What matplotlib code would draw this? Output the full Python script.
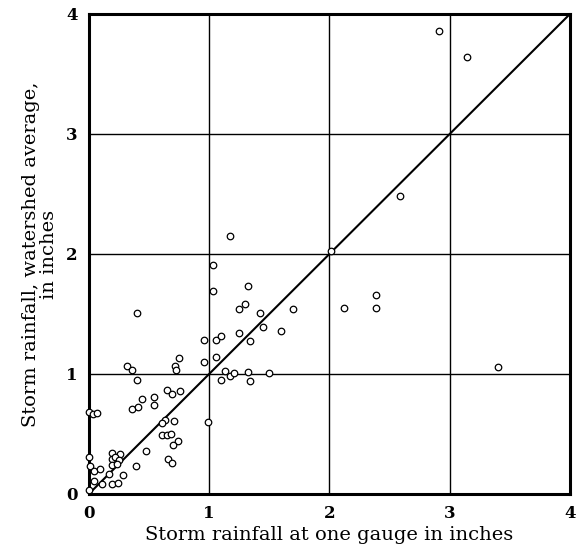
import numpy as np
import matplotlib
matplotlib.use("Agg")
import matplotlib.pyplot as plt

# gauge rainfall (x) vs watershed average (y), inches
gauge = [0.32, 0.36, 0.40, 0.72, 0.725, 0.75, 0.96, 1.06, 1.13, 1.10, 1.17, 1.21, 1.32, 1.34, 1.50,
         0.65, 0.69, 0.76, 0.44, 0.54, 0.54,
         0.00, 0.03, 0.07, 0.36, 0.41,
         0.63, 0.61, 0.705, 0.61, 0.65, 0.68, 0.74, 0.70, 0.66, 0.69, 0.475, 0.99,
         0.00, 0.01, 0.04, 0.095, 0.04, 0.00, 0.11, 0.19, 0.24, 0.28, 0.17, 0.19, 0.26, 0.19,
         0.22, 0.25, 0.19, 0.23, 0.39,
         0.40, 1.03, 1.32, 1.25, 1.30, 1.42, 0.96, 1.06, 1.10, 1.25, 1.34,
         1.03, 1.17,
         2.01, 2.39, 2.39, 2.12, 1.70, 1.45, 1.60,
         2.91, 3.14, 2.59, 3.40]
watershed = [1.07, 1.03, 0.95, 1.07, 1.03, 1.13, 1.10, 1.14, 1.025, 0.95, 0.98, 1.01, 1.02, 0.94, 1.01,
             0.87, 0.83, 0.86, 0.79, 0.81, 0.74,
             0.68, 0.67, 0.675, 0.71, 0.725,
             0.62, 0.59, 0.61, 0.49, 0.49, 0.50, 0.44, 0.41, 0.29, 0.26, 0.36, 0.60,
             0.31, 0.23, 0.19, 0.21, 0.11, 0.03, 0.08, 0.08, 0.095, 0.16, 0.17, 0.34, 0.33, 0.29,
             0.31, 0.28, 0.24, 0.25, 0.23,
             1.51, 1.69, 1.73, 1.54, 1.58, 1.51, 1.28, 1.28, 1.32, 1.34, 1.275,
             1.91, 2.15,
             2.025, 1.66, 1.55, 1.55, 1.54, 1.39, 1.36,
             3.855, 3.64, 2.48, 1.06]

ticks = [0, 1, 2, 3, 4]

plt.rcParams['font.family'] = ['DejaVu Serif']

fig = plt.figure(figsize=(5.81, 5.60), dpi=100)
ax = fig.add_axes((0.153, 0.118, 0.828, 0.857))

# 1:1 line
ax.plot([0, 4], [0, 4], color='k', linewidth=1.5, zorder=2)

ax.scatter(gauge, watershed, s=22, facecolors='white', edgecolors='k',
           linewidths=0.9, zorder=3, clip_on=False)

ax.set_xlim(0, 4)
ax.set_ylim(0, 4)
ax.set_xticks(ticks)
ax.set_yticks(ticks)
ax.set_xticklabels([str(t) for t in ticks], fontsize=12, fontweight='bold')
ax.set_yticklabels([str(t) for t in ticks], fontsize=12, fontweight='bold')
ax.tick_params(length=0, pad=8)
ax.grid(True, color='k', linewidth=1.0)
ax.set_axisbelow(True)
for s in ax.spines.values():
    s.set_linewidth(2.2)

ax.set_xlabel("Storm rainfall at one gauge in inches", fontsize=14, labelpad=3)
ax.set_ylabel("Storm rainfall, watershed average,\nin inches", fontsize=14,
              labelpad=6, linespacing=1.0)

fig.savefig("out.png", dpi=100)
